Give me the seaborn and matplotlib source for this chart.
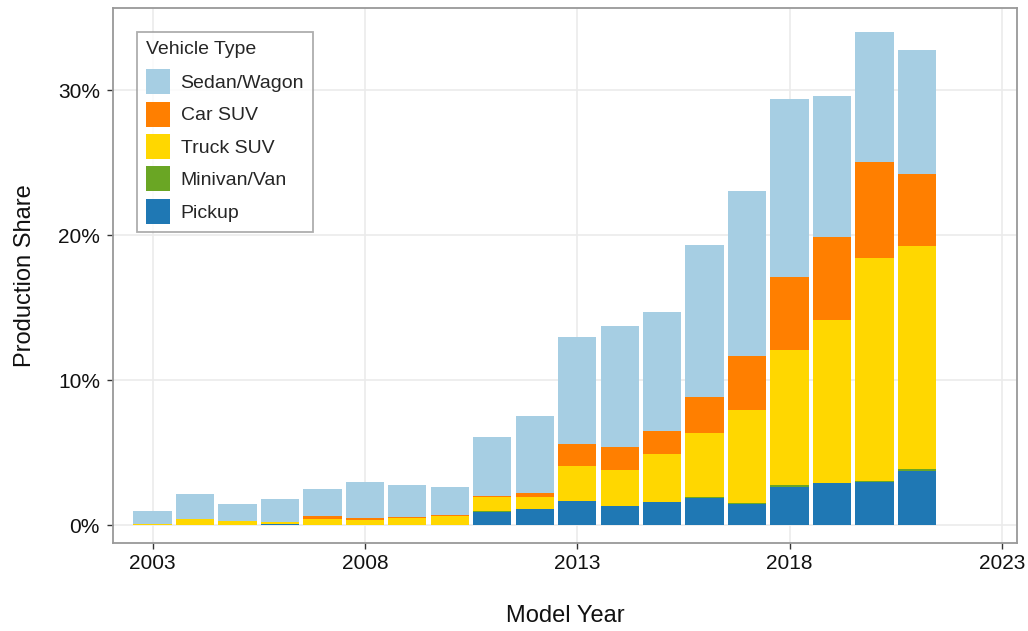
import pandas as pd
import matplotlib.pyplot as plt
import seaborn as sns
from matplotlib.ticker import FuncFormatter

# Shares (in %), model years 2003-2021
years = list(range(2003, 2022))
sedan_wagon = [0.86, 1.73, 1.17, 1.56, 1.86, 2.49, 2.21, 1.93, 4.03, 5.31,
               7.40, 8.38, 8.24, 10.49, 11.38, 12.26, 9.71, 9.00, 8.55]
car_suv = [0.00, 0.00, 0.00, 0.00, 0.21, 0.14, 0.07, 0.07, 0.10, 0.28,
           1.52, 1.59, 1.58, 2.48, 3.73, 5.03, 5.73, 6.63, 4.96]
truck_suv = [0.06, 0.36, 0.23, 0.16, 0.36, 0.29, 0.43, 0.57, 0.97, 0.83,
             2.41, 2.48, 3.31, 4.41, 6.41, 9.36, 11.23, 15.32, 15.39]
minivan_van = [0.05, 0.05, 0.05, 0.00, 0.05, 0.05, 0.05, 0.05, 0.03, 0.03,
               0.00, 0.00, 0.00, 0.07, 0.07, 0.09, 0.02, 0.11, 0.14]
pickup = [0.00, 0.00, 0.00, 0.07, 0.00, 0.00, 0.00, 0.00, 0.93, 1.10,
          1.66, 1.31, 1.59, 1.90, 1.47, 2.66, 2.92, 2.97, 3.75]

types = ["Sedan/Wagon", "Car SUV", "Truck SUV", "Minivan/Van", "Pickup"]
colors = ["#a6cee3", "#ff7f00", "#ffd700", "#6aa624", "#1f78b4"]

# long format table for seaborn
df = pd.DataFrame({
    "year": years * 5,
    "share": sedan_wagon + car_suv + truck_suv + minivan_van + pickup,
    "type": sum([[t] * len(years) for t in types], []),
})

sns.set_theme(style="whitegrid")
plt.rcParams["font.family"] = ["Liberation Sans", "DejaVu Sans"]

fig = plt.figure(figsize=(10.28, 6.31), dpi=100)
ax = fig.add_axes([0.110, 0.139, 0.879, 0.848])

sns.histplot(data=df, x="year", weights="share", hue="type", hue_order=types,
             palette=colors, multiple="stack", discrete=True, shrink=0.9,
             alpha=1, linewidth=0, ax=ax)

ax.set_xlim(2002.07, 2023.35)
ax.set_ylim(-1.24, 35.66)
ax.set_xticks([2003, 2008, 2013, 2018, 2023])
ax.set_yticks([0, 10, 20, 30])
ax.yaxis.set_major_formatter(FuncFormatter(lambda v, p: f"{v:.0f}%"))

ax.grid(True, color="#ebebeb", linewidth=1.2)
ax.set_axisbelow(True)
for s in ax.spines.values():
    s.set_color("#999999")
    s.set_linewidth(1.3)
ax.tick_params(axis="both", length=4.5, width=1, color="#333333",
               labelsize=15, labelcolor="#111111")
ax.tick_params(axis="y", pad=5)
ax.tick_params(axis="x", pad=3)
ax.tick_params(axis="both", which="both", bottom=True, left=True)

ax.set_xlabel("Model Year", fontsize=17, labelpad=23, color="#111111")
ax.set_ylabel("Production Share", fontsize=17, labelpad=15.5, color="#111111")

sns.move_legend(ax, "upper left", bbox_to_anchor=(0.0265, 0.955),
                title="Vehicle Type", fontsize=14, title_fontsize=14,
                frameon=True, fancybox=False, edgecolor="#999999",
                handlelength=1.24, handleheight=1.6, labelspacing=0.38,
                handletextpad=0.55, borderpad=0.45, borderaxespad=0)
leg = ax.get_legend()
leg.get_frame().set_linewidth(1.3)
leg._legend_box.align = "left"
leg._legend_box.sep = 8  # a bit more room under the title

fig.savefig("out.png", dpi=100)
